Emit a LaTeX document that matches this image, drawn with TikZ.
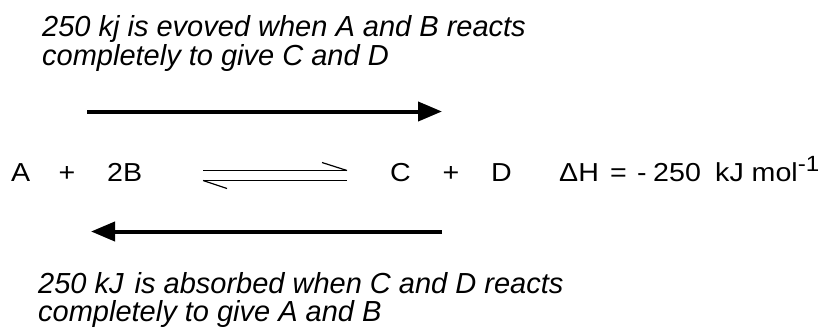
\documentclass[tikz,border=0pt]{standalone}
\usepackage{fontspec}
\setmainfont{Liberation Sans}
\usetikzlibrary{arrows.meta,positioning}

\begin{document}
\begin{tikzpicture}[
    x=1pt, y=-1pt,
    note/.style={anchor=base west, inner sep=0pt, font=\fontsize{29}{29}\selectfont\itshape},
    species/.style={anchor=base west, inner sep=0pt, font=\fontsize{26}{26}\selectfont\addfontfeature{FakeStretch=1.1}},
    bigarrow/.style={line width=4pt, -{Triangle[length=24pt,width=19pt]}},
    eqline/.style={line width=1.6pt},
    barb/.style={line width=1.2pt}
  ]
  \useasboundingbox (0,0) rectangle (819,327);

  % forward direction
  \node[note] (fwdtxt1) at (42,36) {250 kj is evoved when A and B reacts};
  \node[note] (fwdtxt2) at (42,65) {completely to give C and D};
  \coordinate (fwdstart) at (87,111.5);
  \coordinate (fwdend) at (442,111.5);
  \draw[bigarrow] (fwdstart) -- (fwdend);

  % the equation
  \node[species] (a) at (11,181) {A};
  \node[species, anchor=base] (plus1) at (67,181) {+};
  \node[species] (b) at (107,181) {2B};
  \node[species] (c) at (390,181) {C};
  \node[species, anchor=base] (plus2) at (451,181) {+};
  \node[species] (d) at (491,181) {D};
  \node[species] (dh) at (559,181) {ΔH};
  \node[species] (eq) at (610,181) {=};
  \node[species] (minus) at (637,181) {-};
  \node[species] (num) at (653,181) {250};
  \node[species] (unit) at (715,181) {kJ mol\textsuperscript{\fontsize{22}{22}\selectfont -1}};

  % equilibrium harpoons
  \coordinate (upl) at (203,170.5);
  \coordinate (upr) at (347,170.5);
  \coordinate (lol) at (203,180.5);
  \coordinate (lor) at (347,180.5);
  \draw[eqline] (upl) -- (upr);
  \draw[barb] (upr) -- ++(-25,-8);
  \draw[eqline] (lor) -- (lol);
  \draw[barb] (lol) -- ++(24,8);

  % reverse direction
  \coordinate (revstart) at (442,231.5);
  \coordinate (revend) at (91,231.5);
  \draw[bigarrow] (revstart) -- (revend);
  \node[note] (revtxt1) at (38,293) {250 kJ\hspace{3pt} is absorbed when C and D reacts};
  \node[note] (revtxt2) at (38,321) {completely to give A and B};
\end{tikzpicture}
\end{document}
